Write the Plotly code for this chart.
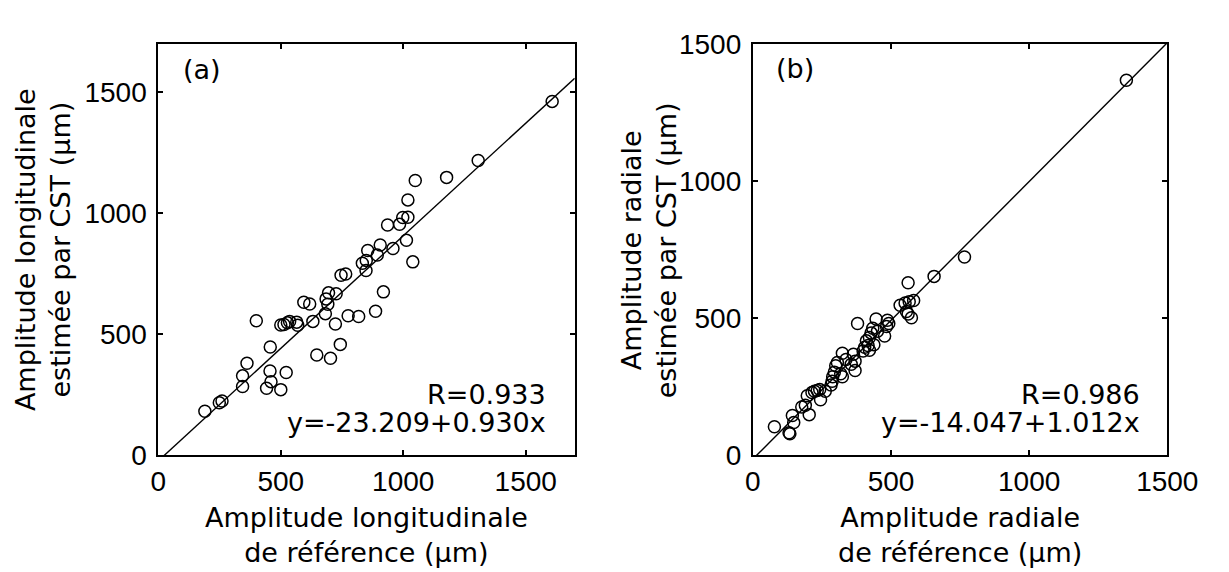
import plotly.graph_objects as go

# ---------------- data ----------------
# Panel (a): longitudinal amplitude (reference vs CST estimate), µm
long_ref = [190, 249, 260, 344, 344, 362, 400, 442, 460, 456, 457, 500, 522, 500, 513,
            527, 536, 565, 569, 594, 618, 631, 647, 703, 743, 682, 685, 695, 692, 723,
            726, 746, 765, 775, 818, 833, 849, 848, 855, 894, 906, 887, 919, 936, 958,
            985, 998, 1019, 1013, 1039, 1019, 1049, 1177, 1306, 1608]
long_cst = [182, 217, 224, 284, 328, 380, 556, 277, 304, 348, 447, 271, 342, 538, 540,
            547, 553, 550, 537, 632, 625, 553, 414, 401, 458, 585, 646, 671, 624, 542,
            667, 744, 749, 576, 573, 793, 805, 763, 846, 827, 869, 595, 675, 951, 854,
            954, 982, 983, 888, 799, 1055, 1135, 1148, 1218, 1462]

# Panel (b): radial amplitude (reference vs CST estimate), µm
rad_ref = [78, 131, 134, 148, 143, 177, 190, 204, 197, 214, 223, 233, 242, 245, 262,
           283, 287, 289, 295, 300, 306, 318, 324, 324, 337, 356, 364, 370, 370, 379,
           399, 405, 417, 422, 411, 422, 428, 438, 434, 451, 446, 477, 484, 487, 492,
           533, 551, 566, 582, 556, 562, 574, 562, 656, 766, 1352]
rad_cst = [104, 82, 78, 119, 145, 176, 182, 148, 217, 229, 233, 236, 240, 202, 233,
           256, 270, 286, 303, 326, 338, 297, 286, 372, 349, 332, 368, 343, 309, 480,
           380, 394, 400, 383, 417, 429, 446, 403, 463, 452, 497, 435, 469, 492, 480,
           547, 555, 560, 564, 524, 515, 501, 629, 652, 723, 1367]

# regression lines (intercept, slope) and correlation
fit_a = (-23.209, 0.930)
fit_b = (-14.047, 1.012)
r_a = 0.933
r_b = 0.986

ticks = [0, 500, 1000, 1500]
range_a = [0, 1700]
range_b = [0, 1500]

# ---------------- figure ----------------
W, H = 1229, 572
fig = go.Figure()

marker = dict(symbol="circle-open", size=12, color="black", line=dict(width=1.5, color="black"))

fig.add_trace(go.Scatter(x=long_ref, y=long_cst, mode="markers", marker=marker,
                         xaxis="x", yaxis="y", showlegend=False))
fig.add_trace(go.Scatter(x=range_a, y=[fit_a[0] + fit_a[1] * v for v in range_a], mode="lines",
                         line=dict(color="black", width=1.4), xaxis="x", yaxis="y", showlegend=False))
fig.add_trace(go.Scatter(x=rad_ref, y=rad_cst, mode="markers", marker=marker,
                         xaxis="x2", yaxis="y2", showlegend=False))
fig.add_trace(go.Scatter(x=range_b, y=[fit_b[0] + fit_b[1] * v for v in range_b], mode="lines",
                         line=dict(color="black", width=1.4), xaxis="x2", yaxis="y2", showlegend=False))

def px_x(p):
    return p / W

def px_y(p):
    return 1 - p / H

tickfont = dict(family="Liberation Sans, Arial, sans-serif", size=28, color="black")
ax_common = dict(showgrid=False, zeroline=False, showline=True, linewidth=2, linecolor="black",
                 mirror="ticks", ticks="inside", ticklen=5, tickwidth=1.5, tickcolor="black",
                 tickvals=ticks, tickfont=tickfont)

ydom = [px_y(457), px_y(22)]
fig.update_layout(
    width=W, height=H, margin=dict(l=0, r=0, t=0, b=0),
    paper_bgcolor="white", plot_bgcolor="white",
    xaxis=dict(domain=[px_x(147), px_x(577)], range=range_a, anchor="y", **ax_common),
    yaxis=dict(domain=ydom, range=range_a, anchor="x", ticklabelstandoff=4, **ax_common),
    xaxis2=dict(domain=[px_x(761), px_x(1189)], range=range_b, anchor="y2", **ax_common),
    yaxis2=dict(domain=ydom, range=range_b, anchor="x2", ticklabelstandoff=4, **ax_common),
)

tfont = dict(family="DejaVu Sans", size=27, color="black")
ann = []
def add(text, x, y, xanchor="center", yanchor="middle", angle=0):
    ann.append(dict(text=text, x=px_x(x), y=px_y(y), xref="paper", yref="paper",
                    xanchor=xanchor, yanchor=yanchor, showarrow=False, font=tfont,
                    textangle=angle))

add("(a)", 192, 49)
add("(b)", 805, 48)
add(f"R={r_a:.3f}", 549, 393, xanchor="right")
add(f"y={fit_a[0]:.3f}+{fit_a[1]:.3f}x", 549, 422, xanchor="right")
add(f"R={r_b:.3f}", 1163, 393, xanchor="right")
add(f"y={fit_b[0]:.3f}+{fit_b[1]:.3f}x", 1163, 422, xanchor="right")
add("Amplitude longitudinale<br>de référence (µm)", 362, 541)
add("Amplitude radiale<br>de référence (µm)", 975, 541)
add("Amplitude longitudinale<br>estimée par CST (µm)", 28, 240, angle=-90)
add("Amplitude radiale<br>estimée par CST (µm)", 654, 240, angle=-90)
fig.update_layout(annotations=ann)

fig.write_html("out.html")
